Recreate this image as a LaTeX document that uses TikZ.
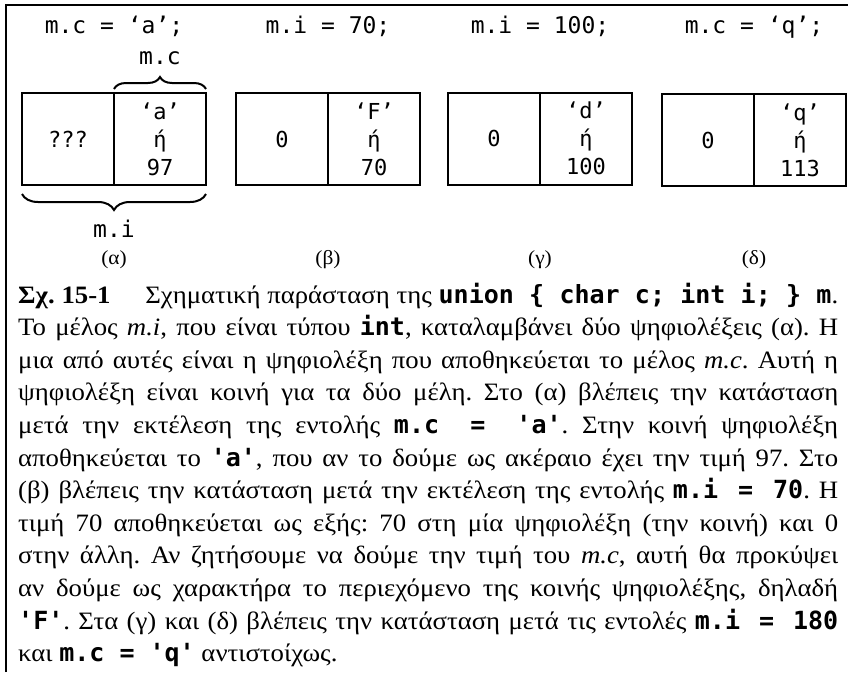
\documentclass[tikz,border=0pt]{standalone}
\usepackage{fontspec}
\setmainfont{Liberation Serif}[FakeStretch=1.07]
\newfontfamily\codefont{DejaVu Sans Mono}
\usetikzlibrary{positioning,decorations.pathreplacing}

\tikzset{
    cell/.style={draw, line width=2pt, minimum width=92pt, minimum height=92pt,
        inner sep=0pt, outer sep=0pt, align=center,
        font=\codefont\fontsize{22}{28}\selectfont},
    code/.style={font=\codefont\fontsize{23}{26}\selectfont, inner sep=0pt, anchor=base},
    sublabel/.style={font=\fontsize{20}{24}\selectfont, inner sep=0pt, anchor=base},
    memberbrace/.style={decorate, decoration={brace, amplitude=#1}, line width=2pt},
    memberbrace/.default=12pt
}

\begin{document}
\begin{tikzpicture}[x=1pt, y=-1pt]
\useasboundingbox (0,0) rectangle (848,672);

% --- frame (left and top) ---
\draw[line width=2.5pt] (6,672) -- (6,5) -- (848,5);

% --- (a) m.c = 'a' ---
\node[cell] (a0) at (68,139) {???};
\node[cell, right=0pt of a0] (a1) {‘a’\\ή\\97};
\node[code] (ca) at (a0.east |- 0,33) {m.c = ‘a’;};
\draw[memberbrace=12pt] ([yshift=4pt]a1.north west) -- ([yshift=4pt]a1.north east);
\node[code] (mc) at (a1.north |- 0,64) {m.c};
\draw[memberbrace=16pt] ([yshift=-9pt]a1.south east) -- ([yshift=-9pt]a0.south west);
\node[code] (mi) at (a0.east |- 0,237) {m.i};
\node[sublabel] (la) at (a0.east |- 0,264) {(α)};

% --- (b) m.i = 70 ---
\node[cell] (b0) at (282,139) {0};
\node[cell, right=0pt of b0] (b1) {‘F’\\ή\\70};
\node[code] (cb) at (b0.east |- 0,33) {m.i = 70;};
\node[sublabel] (lb) at (b0.east |- 0,264) {(β)};

% --- (c) m.i = 100 ---
\node[cell] (g0) at (494,138.5) {0};
\node[cell, right=0pt of g0] (g1) {‘d’\\ή\\100};
\node[code] (cg) at (g0.east |- 0,33) {m.i = 100;};
\node[sublabel] (lg) at (g0.east |- 0,264) {(γ)};

% --- (d) m.c = 'q' ---
\node[cell] (d0) at (708,140) {0};
\node[cell, right=0pt of d0] (d1) {‘q’\\ή\\113};
\node[code] (cd) at (d0.east |- 0,33) {m.c = ‘q’;};
\node[sublabel] (ld) at (d0.east |- 0,264) {(δ)};

% --- caption ---
\node[anchor=base west, text width=820pt, align=justify, inner sep=0pt,
      font=\fontsize{25}{32.6}\selectfont] (caption) at (18,303) {%
\tolerance=10000 \frenchspacing
{\bfseries Σχ. 15-1}\hspace{28pt} Σχηματική παράσταση της {\codefont\bfseries union \{ char c; int i; \} m}.\linebreak
Το μέλος \textit{m.i}, που είναι τύπου {\codefont\bfseries int}, καταλαμβάνει δύο ψηφιολέξεις (α). Η\linebreak
μια από αυτές είναι η ψηφιολέξη που αποθηκεύεται το μέλος \textit{m.c}. Αυτή η\linebreak
ψηφιολέξη είναι κοινή για τα δύο μέλη. Στο (α) βλέπεις την κατάσταση\linebreak
μετά την εκτέλεση της εντολής {\codefont\bfseries m.c = 'a'}. Στην κοινή ψηφιολέξη\linebreak
αποθηκεύεται το {\codefont\bfseries 'a'}, που αν το δούμε ως ακέραιο έχει την τιμή 97. Στο\linebreak
(β) βλέπεις την κατάσταση μετά την εκτέλεση της εντολής {\codefont\bfseries m.i = 70}. Η\linebreak
τιμή 70 αποθηκεύεται ως εξής: 70 στη μία ψηφιολέξη (την κοινή) και 0\linebreak
στην άλλη. Αν ζητήσουμε να δούμε την τιμή του \textit{m.c}, αυτή θα προκύψει\linebreak
αν δούμε ως χαρακτήρα το περιεχόμενο της κοινής ψηφιολέξης, δηλαδή\linebreak
{\codefont\bfseries 'F'}. Στα (γ) και (δ) βλέπεις την κατάσταση μετά τις εντολές {\codefont\bfseries m.i = 180}\linebreak
και {\codefont\bfseries m.c = 'q'} αντιστοίχως.};

\end{tikzpicture}
\end{document}
